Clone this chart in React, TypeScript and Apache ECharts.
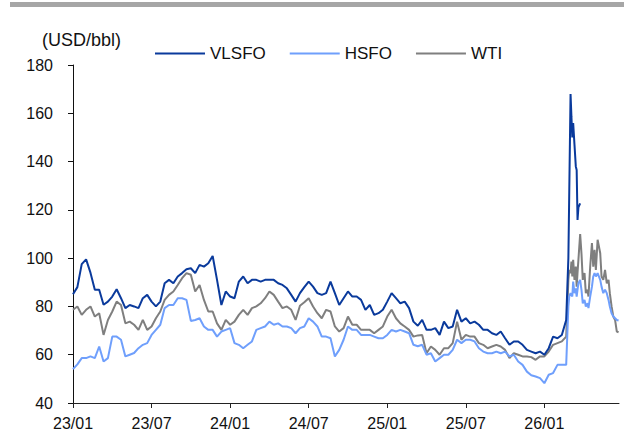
import React, { useEffect, useRef } from 'react';
import * as echarts from 'echarts';

// Sample dates (10-day steps, denser around the 2026 spike)
const dates: string[] = [
  '2023-01-01','2023-01-11','2023-01-21','2023-02-01','2023-02-11','2023-02-21','2023-03-01','2023-03-11','2023-03-21',
  '2023-04-01','2023-04-11','2023-04-21','2023-05-01','2023-05-11','2023-05-21','2023-06-01','2023-06-11','2023-06-21',
  '2023-07-01','2023-07-11','2023-07-21','2023-08-01','2023-08-11','2023-08-21','2023-09-01','2023-09-11','2023-09-21',
  '2023-10-01','2023-10-11','2023-10-21','2023-11-01','2023-11-11','2023-11-21','2023-12-01','2023-12-11','2023-12-21',
  '2024-01-01','2024-01-11','2024-01-21','2024-02-01','2024-02-11','2024-02-21','2024-03-01','2024-03-11','2024-03-21',
  '2024-04-01','2024-04-11','2024-04-21','2024-05-01','2024-05-11','2024-05-21','2024-06-01','2024-06-11','2024-06-21',
  '2024-07-01','2024-07-11','2024-07-21','2024-08-01','2024-08-11','2024-08-21','2024-09-01','2024-09-11','2024-09-21',
  '2024-10-01','2024-10-11','2024-10-21','2024-11-01','2024-11-11','2024-11-21','2024-12-01','2024-12-11','2024-12-21',
  '2025-01-01','2025-01-11','2025-01-21','2025-02-01','2025-02-11','2025-02-21','2025-03-01','2025-03-11','2025-03-21',
  '2025-04-01','2025-04-11','2025-04-21','2025-05-01','2025-05-11','2025-05-21','2025-06-01','2025-06-11','2025-06-21',
  '2025-07-01','2025-07-11','2025-07-21','2025-08-01','2025-08-11','2025-08-21','2025-09-01','2025-09-11','2025-09-21',
  '2025-10-01','2025-10-11','2025-10-21','2025-11-01','2025-11-11','2025-11-21',
  '2025-12-01','2025-12-11','2025-12-21','2026-01-01','2026-01-11','2026-01-21','2026-02-01','2026-02-11','2026-02-21',
  '2026-02-26','2026-02-28','2026-03-01','2026-03-03','2026-03-05','2026-03-07','2026-03-10','2026-03-13','2026-03-15',
  '2026-03-17','2026-03-19','2026-03-23','2026-03-26','2026-03-29','2026-04-03','2026-04-06','2026-04-10','2026-04-12',
  '2026-04-16','2026-04-20','2026-04-23','2026-04-26','2026-04-29','2026-05-03','2026-05-09','2026-05-12','2026-05-16',
  '2026-05-20','2026-05-24','2026-05-28','2026-06-01','2026-06-05','2026-06-09','2026-06-13','2026-06-17','2026-06-21',
];

const vlsfo: (number | null)[] = [
  85, 88, 97.5, 99.5, 94, 86.9, 86.9, 80.7, 82, 84.1, 87.1, 83.4, 79.3, 80.6, 80, 79.3, 83.4, 84.8, 82, 80, 82, 89.6, 91, 89.6, 92.4, 93.8, 95.4,
  95.8, 93.8, 97.2, 96.5, 97.9, 100.9, 91, 80.6, 86.2, 84.1, 83.4, 90.3, 92.4, 89.6, 91, 91, 90.3, 91, 91, 91, 89.6, 88.9, 87.5, 84.8, 82, 85.5, 88,
  90.3, 88.2, 85.5, 84.8, 85.5, 90.3, 85.5, 80.6, 83.4, 86.2, 84.1, 84.1, 82.7, 78.6, 80.6, 76.5, 77.2, 78.6, 82, 85.5, 83.4, 81.3, 82, 79.3, 73.7, 72,
  74.4, 70.3, 70.3, 71, 68.2, 73.7, 71, 71.7, 78.6, 73.7, 75.1, 73, 73.7, 72.4, 70.3, 70.3, 68.9, 68.2, 69.6, 66.8, 64.1, 65.5, 65.5, 64.1, 62,
  61.3, 60.6, 61.3, 60, 62.7, 67.5, 66.8, 68.2, 74.4, 100, 127, 168, 158.6, 150, 156, 147, 138, 136.5, 115.8, 121, 122.7,
  null, null, null, null, null, null, null, null, null, null, null, null, null, null, null, null, null, null, null, null, null, null, null, null,
];

const hsfo: number[] = [
  54, 56, 58.6, 58.6, 59.3, 58.6, 63.4, 57.2, 58.6, 67.5, 67.5, 66.2, 59.3, 60, 60.7, 62.7, 64.1, 64.8, 68.2, 70.3, 72.4, 79.3, 80.6, 80.6, 83.4, 83.4, 82.7,
  74, 74.4, 75.1, 71.7, 70.3, 70.3, 67.5, 69.6, 70.3, 71, 64.8, 64.1, 62.7, 64.1, 65.5, 70.3, 71, 71.7, 73.7, 72.4, 73, 71.7, 71.7, 71, 68.9, 71, 71.7,
  75.1, 73.7, 71.7, 67.5, 67.5, 66.8, 59.3, 62, 66.2, 71.7, 70.3, 70.3, 68.2, 68.2, 68.2, 67.5, 66.8, 66.8, 68.2, 70.3, 69.6, 70.3, 69.6, 68.9, 64.1, 63.5,
  64.1, 60, 60.6, 57.2, 58.6, 60, 60, 62, 66.2, 64.8, 66.2, 66.2, 65.5, 62.7, 61.3, 60.6, 60.6, 61.3, 60.6, 61.3, 59.3, 60, 57.2, 55.8, 53,
  51.5, 51, 50.3, 48.2, 51.7, 52.4, 55.8, 55.8, 55.8, 80, 84.1, 85.5, 84.8, 84.1, 90.3, 85.5, 87.5, 84.1, 87, 89.6, 91, 86.9, 81.3, 82.7, 80, 81.3, 79.3,
  84.1, 88.2, 92.4, 93.8, 92.4, 93.8, 91, 88.2, 85.5, 86.9, 85.5, 82.7, 80, 77.2, 75.8, 75.1, 74.4, 74.2,
];

const wti: number[] = [
  78.6, 80, 76.5, 78.6, 80, 75.8, 77.2, 68.2, 74.4, 77.9, 82, 80.6, 73, 73.7, 72.4, 70.3, 74.4, 70.3, 71.7, 75.1, 77.9, 82.7, 84.8, 86.2, 88.9, 91.7, 93.8,
  93.1, 86.2, 88.9, 82.7, 77.9, 77.9, 73, 70.3, 74.4, 72.4, 73.7, 76.5, 78.6, 76.5, 79.3, 80, 81.3, 83.4, 86.2, 84.8, 82, 79.3, 80, 78.6, 74.4, 80.3, 81.7,
  83.4, 80, 77.2, 75.1, 78.6, 77.9, 71.7, 69.6, 71, 75.8, 72.4, 72.4, 70.3, 70.3, 70.3, 68.9, 70.3, 71.7, 75.8, 78.6, 75.1, 73, 71.7, 70.3, 67.5, 68,
  68.2, 60.6, 63.4, 62, 60, 62.7, 62.7, 64.8, 73.7, 66.2, 68.2, 67.5, 67.5, 64.8, 64.1, 62.7, 63.4, 64.1, 63.4, 62, 58.6, 60.6, 60, 59.3, 59.3,
  59, 57.9, 59.3, 59.3, 61.3, 64.1, 64.8, 65.5, 67.5, 91, 95.1, 93.8, 98.6, 92.4, 99.3, 91, 96.5, 88.2, 94, 99.3, 110, 102, 91, 93.8, 85.5, 86.9, 84.1,
  96.5, 106.2, 96.5, 103.4, 95.1, 107.6, 102, 92.4, 91, 95.1, 89.6, 91, 85.5, 80, 75.8, 74.4, 69.6, 69.3,
];

const seriesNames = ['VLSFO', 'HSFO', 'WTI'];
const seriesColors = ['#0a3a9c', '#6f9ffc', '#7f7f7f'];
const xTickMonths = [0, 6, 12, 18, 24, 30, 36];
const unitLabel = '(USD/bbl)';

const FONT = '"Liberation Sans", Arial, sans-serif';

function toPos(d: string): number {
  const [y, m, dd] = d.split('-').map(Number);
  return (y - 2023) * 12 + (m - 1) + (dd - 1) / 30;
}

function posLabel(v: number): string {
  const mi = Math.round(v);
  const y = 23 + Math.floor(mi / 12);
  const m = (mi % 12) + 1;
  return `${y}/${String(m).padStart(2, '0')}`;
}

function pairs(vals: (number | null)[]) {
  const out: [number, number][] = [];
  vals.forEach((v, i) => {
    if (v !== null && v !== undefined) out.push([toPos(dates[i]), v]);
  });
  return out;
}

export default function App() {
  const ref = useRef<HTMLDivElement>(null);
  useEffect(() => {
    document.body.style.margin = '0';
    if (!ref.current) return;
    const chart = echarts.init(ref.current, null, { renderer: 'svg' });
    const all = [vlsfo, hsfo, wti];
    chart.setOption({
      animation: false,
      backgroundColor: '#fff',
      textStyle: { fontFamily: FONT },
      grid: { left: 73, right: 5, top: 65, bottom: 38, outerBoundsMode: 'none', containLabel: false },
      legend: {
        data: seriesNames.map((n) => ({ name: n, icon: 'rect' })),
        left: 150,
        top: 40,
        itemWidth: 50,
        itemHeight: 2,
        itemGap: 24,
        textStyle: { fontSize: 17, color: '#111', fontFamily: FONT },
      },
      graphic: [
        { type: 'rect', left: 10, top: 2, shape: { width: 614, height: 5 }, style: { fill: '#a6a6a6' } },
        {
          type: 'text', left: 42, top: 31,
          style: { text: unitLabel, fontSize: 18, fill: '#111', fontFamily: FONT },
        },
      ],
      xAxis: {
        type: 'value',
        min: 0,
        max: 41.7,
        splitLine: { show: false },
        axisLine: { show: true, onZero: false, lineStyle: { color: '#222', width: 1 } },
        axisTick: { show: true, length: 5, customValues: xTickMonths, lineStyle: { color: '#222' } },
        axisLabel: {
          customValues: xTickMonths,
          formatter: (v: number) => posLabel(v),
          fontSize: 16, color: '#111', margin: 12, fontFamily: FONT,
        },
      },
      yAxis: {
        type: 'value',
        min: 40,
        max: 180,
        interval: 20,
        splitLine: { show: false },
        axisLine: { show: true, lineStyle: { color: '#111', width: 1 } },
        axisTick: { show: true, length: 5, lineStyle: { color: '#111' } },
        axisLabel: { fontSize: 16, color: '#111', margin: 20, fontFamily: FONT },
      },
      series: seriesNames.map((name, i) => ({
        name,
        type: 'line',
        data: pairs(all[i]),
        symbol: 'none',
        showSymbol: false,
        z: 10 - i,
        lineStyle: { color: seriesColors[i], width: 2 },
        itemStyle: { color: seriesColors[i] },
      })),
    });
    return () => chart.dispose();
  }, []);
  return <div ref={ref} style={{ width: 624, height: 441 }} />;
}
